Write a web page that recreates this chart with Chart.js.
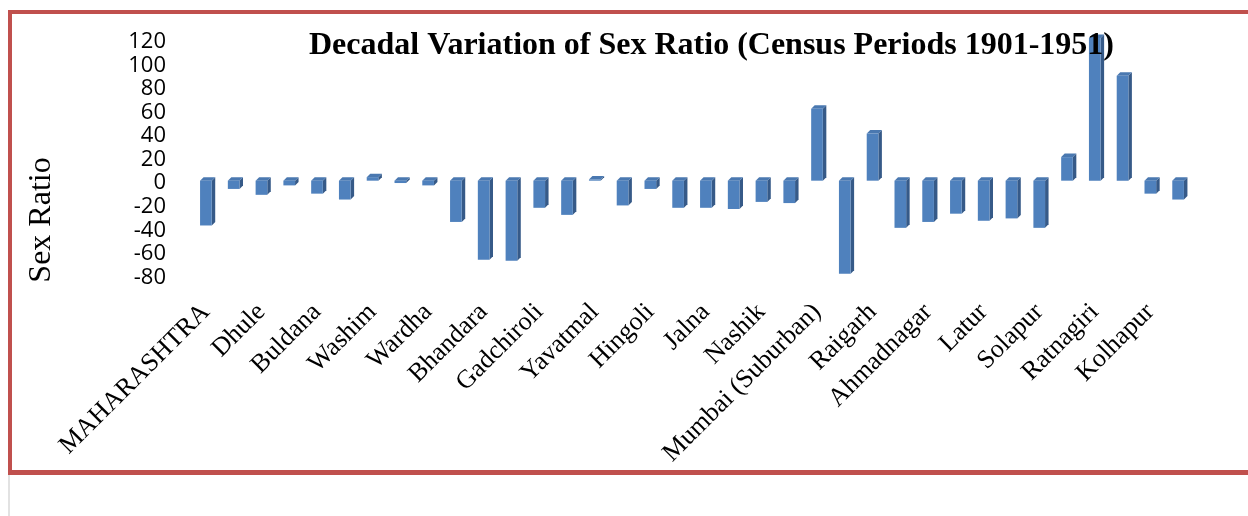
<!DOCTYPE html>
<html>
<head>
<meta charset="utf-8">
<script src="https://cdn.jsdelivr.net/npm/chart.js@4.4.1/dist/chart.umd.min.js"></script>
<style>
  html, body { margin: 0; padding: 0; background: #fff; width: 1248px; height: 516px; overflow: hidden; }
  #frame {
    position: absolute; left: 8px; top: 10px; width: 1300px; height: 456px;
    border-top: 4px solid #C0504D; border-left: 4px solid #C0504D; border-bottom: 5px solid #C0504D;
    background: #fff;
  }
  #margin { position: absolute; left: 8px; top: 475px; width: 2px; height: 41px; background: #e2e2e2; }
  #chart { position: absolute; left: 0; top: 0; }
</style>
</head>
<body>
<div id="frame"></div>
<div id="margin"></div>
<canvas id="chart" width="1248" height="516"></canvas>
<script>
/* ── 데이터 ───────────────────────────────────────────── */
const districts = [
  'MAHARASHTRA', 'Nandurbar', 'Dhule', 'Jalgaon', 'Buldana', 'Akola', 'Washim', 'Amravati',
  'Wardha', 'Nagpur', 'Bhandara', 'Gondiya', 'Gadchiroli', 'Chandrapur', 'Yavatmal', 'Nanded',
  'Hingoli', 'Parbhani', 'Jalna', 'Aurangabad', 'Nashik', 'Thane', 'Mumbai (Suburban)', 'Mumbai',
  'Raigarh', 'Pune', 'Ahmadnagar', 'Bid', 'Latur', 'Osmanabad', 'Solapur', 'Satara',
  'Ratnagiri', 'Sindhudurg', 'Kolhapur', 'Sangli',
];
const variation = [
  -38, -7, -12, -4, -11, -16, 3, -2,
  -4, -35, -67, -68, -23, -29, 1, -21,
  -7, -23, -23, -24, -18, -19, 61, -79,
  40, -40, -35, -28, -34, -32, -40, 20,
  121, 89, -11, -16,
];
const yMin = -80;
const yMax = 120;
const yStep = 20;

const chartTitle = 'Decadal Variation of Sex Ratio (Census Periods 1901-1951)';
const yTitle = 'Sex Ratio';

/* ── 색상 ─────────────────────────────────────────────── */
const FRONT = '#4F81BD';
const TOP   = '#4A78B0';
const SIDE  = '#365A88';
const DEPTH = 3.5;

/* ── 3D 막대 면 (윗면/옆면) ───────────────────────────── */
const bar3d = {
  id: 'bar3d',
  beforeDatasetsDraw(chart) {
    const ctx = chart.ctx;
    chart.getDatasetMeta(0).data.forEach(bar => {
      const { x, y, base, width } = bar.getProps(['x', 'y', 'base', 'width'], true);
      const l = x - width / 2, r = x + width / 2;
      const top = Math.min(y, base), bot = Math.max(y, base);
      ctx.save();
      ctx.fillStyle = SIDE;
      ctx.beginPath();
      ctx.moveTo(r, top); ctx.lineTo(r + DEPTH, top - DEPTH);
      ctx.lineTo(r + DEPTH, bot - DEPTH); ctx.lineTo(r, bot);
      ctx.closePath(); ctx.fill();
      ctx.fillStyle = TOP;
      ctx.beginPath();
      ctx.moveTo(l, top); ctx.lineTo(l + DEPTH, top - DEPTH);
      ctx.lineTo(r + DEPTH, top - DEPTH); ctx.lineTo(r, top);
      ctx.closePath(); ctx.fill();
      ctx.restore();
    });
  },
};

/* ── 제목 텍스트 ───────────────────────────────────────── */
const titles = {
  id: 'titles',
  afterDraw(chart) {
    const ctx = chart.ctx;
    ctx.save();
    ctx.fillStyle = '#000';
    ctx.textBaseline = 'alphabetic';
    ctx.font = "bold 32px 'Liberation Serif', 'Times New Roman', serif";
    ctx.textAlign = 'left';
    ctx.fillText(chartTitle, 309, 54);
    ctx.font = "32px 'Liberation Serif', 'Times New Roman', serif";
    ctx.translate(50, 220);
    ctx.rotate(-Math.PI / 2);
    ctx.textAlign = 'center';
    ctx.fillText(yTitle, 0, 0);
    ctx.restore();
  },
};

new Chart(document.getElementById('chart'), {
  type: 'bar',
  data: {
    labels: districts,
    datasets: [{
      data: variation,
      backgroundColor: FRONT,
      borderWidth: 0,
      categoryPercentage: 1,
      barPercentage: 0.42,
      clip: false,
    }],
  },
  options: {
    responsive: false,
    devicePixelRatio: 1,
    animation: false,
    layout: { padding: { left: 0, top: 39.2, right: 56, bottom: 0 } },
    plugins: { legend: { display: false }, tooltip: { enabled: false }, title: { display: false } },
    scales: {
      x: {
        grid: { display: false, drawTicks: false },
        border: { display: false },
        ticks: {
          autoSkip: false,
          minRotation: 45, maxRotation: 45,
          padding: 22,
          color: '#000',
          font: { family: "'Liberation Serif', 'Times New Roman', serif", size: 26 },
          callback: function (v, i) { return i % 2 === 0 ? this.getLabelForValue(v) : ''; },
        },
        afterFit: s => { s.height = 241; },
      },
      y: {
        min: yMin, max: yMax,
        grid: { display: false, drawTicks: false },
        border: { display: false },
        ticks: {
          autoSkip: false,
          stepSize: yStep,
          padding: 26,
          labelOffset: 2.5,
          color: '#000',
          font: { family: "'Open Sans', sans-serif", size: 22 },
        },
        afterFit: s => { s.width = 192; },
      },
    },
  },
  plugins: [bar3d, titles],
});
</script>
</body>
</html>
